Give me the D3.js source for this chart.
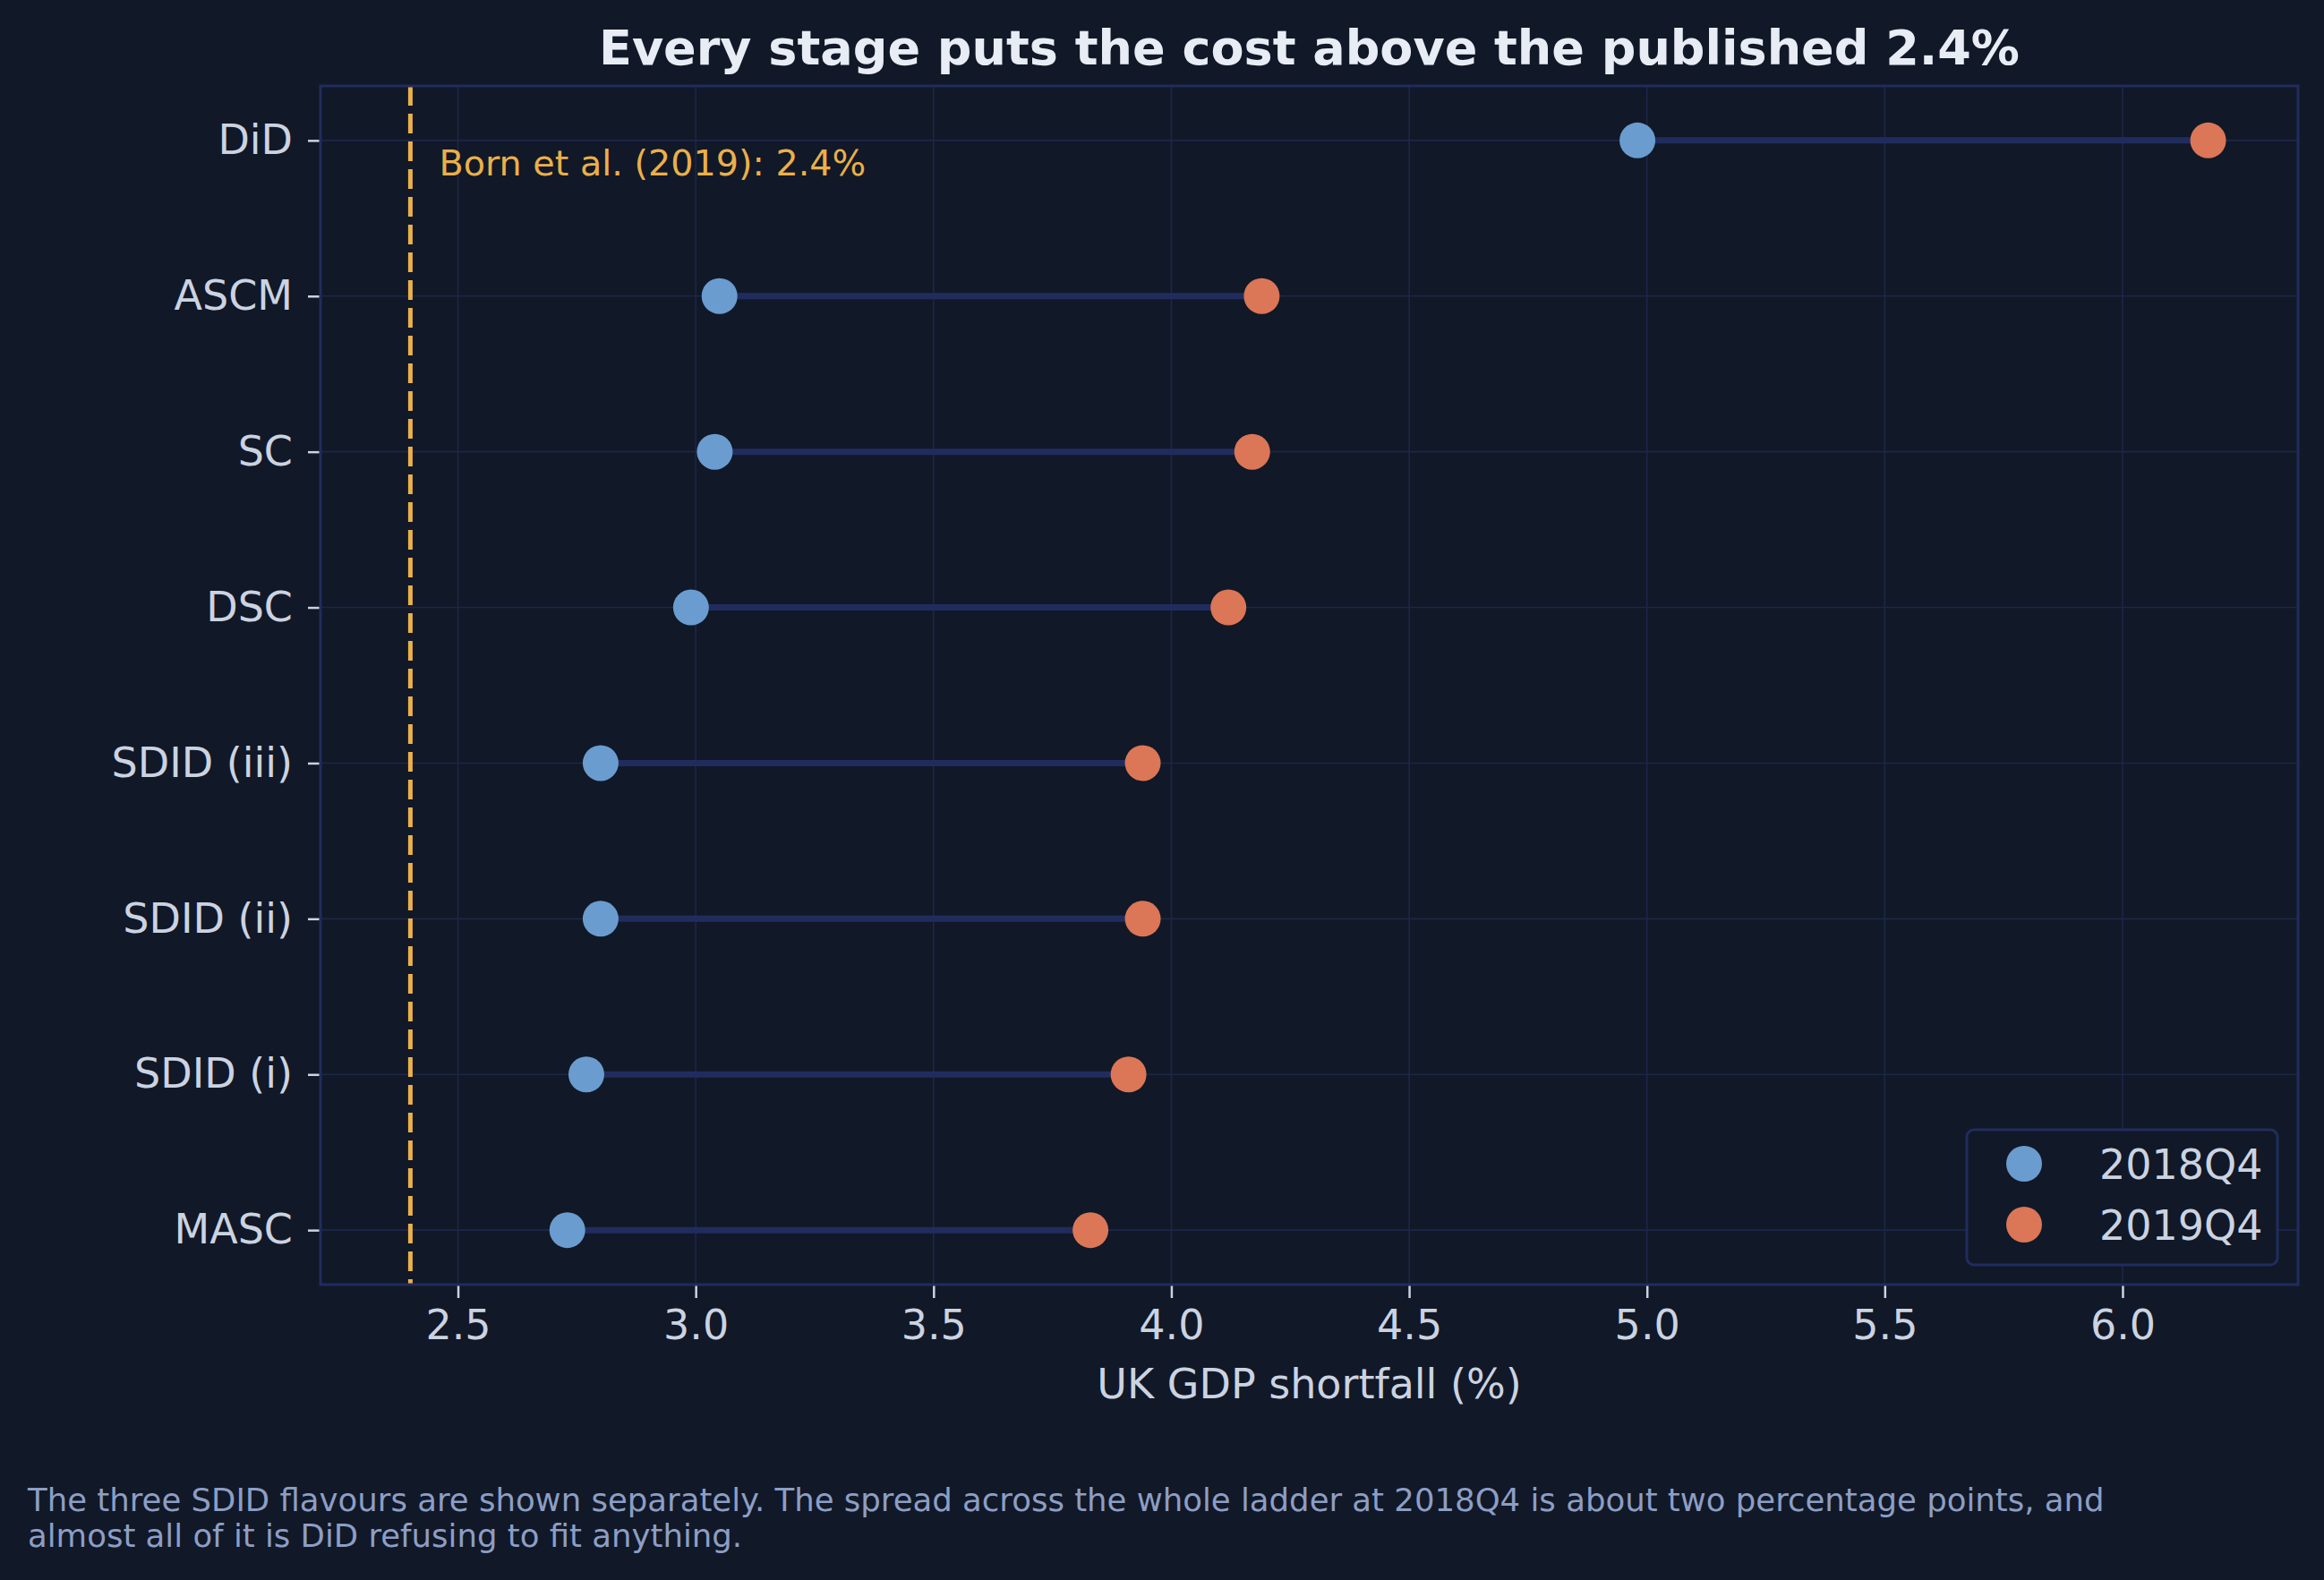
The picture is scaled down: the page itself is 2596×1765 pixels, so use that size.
<!DOCTYPE html>
<html>
<head>
<meta charset="utf-8">
<script src="https://cdn.jsdelivr.net/npm/d3@7"></script>
<style>
  body { margin: 0; background: #111827; }
  text { font-family: "DejaVu Sans", sans-serif; }
</style>
</head>
<body>
<div id="plot-area"></div>
<script>
// estimators, top to bottom
const stages = ["DiD", "ASCM", "SC", "DSC", "SDID (iii)", "SDID (ii)", "SDID (i)", "MASC"];
const q2018 = [4.98, 3.05, 3.04, 2.99, 2.80, 2.80, 2.77, 2.73];
const q2019 = [6.18, 4.19, 4.17, 4.12, 3.94, 3.94, 3.91, 3.83];
const seriesNames = ["2018Q4", "2019Q4"];
const published = 2.4;
const xTicks = [2.5, 3.0, 3.5, 4.0, 4.5, 5.0, 5.5, 6.0];

const titleText = "Every stage puts the cost above the published 2.4%";
const xLabel = "UK GDP shortfall (%)";
const refLabel = "Born et al. (2019): 2.4%";
const footLines = [
  "The three SDID flavours are shown separately. The spread across the whole ladder at 2018Q4 is about two percentage points, and",
  "almost all of it is DiD refusing to fit anything."
];

const colors = { bg: "#111827", blue: "#6a9ccf", orange: "#db7656", spine: "#212c5e",
  grid: "#1c2749", text: "#cbd3e1", title: "#e8ecf4", foot: "#8d9ec4", ref: "#eab04a" };

const w = 2596;
const h = 1765;
const margin = { top: 96, right: 29, bottom: 330, left: 358 };
const width = w - margin.left - margin.right;
const height = h - margin.top - margin.bottom;

const svg = d3.select("#plot-area").append("svg")
  .attr("width", w).attr("height", h)
  .style("background", colors.bg);

const g = svg.append("g").attr("transform", `translate(${margin.left}, ${margin.top})`);

// x range padded by 5% like matplotlib autoscale
const lo = d3.min([published, ...q2018, ...q2019]);
const hi = d3.max([published, ...q2018, ...q2019]);
const pad = 0.05 * (hi - lo);
const x = d3.scaleLinear().domain([lo - pad, hi + pad]).range([0, width]);
const y = d3.scalePoint().domain(stages).range([0, height]).padding(0.35);

// grid
g.append("g").selectAll("line").data(xTicks).enter().append("line")
  .attr("x1", d => x(d)).attr("x2", d => x(d))
  .attr("y1", 0).attr("y2", height)
  .attr("stroke", colors.grid).attr("stroke-width", 1.6);
g.append("g").selectAll("line").data(stages).enter().append("line")
  .attr("x1", 0).attr("x2", width)
  .attr("y1", d => y(d)).attr("y2", d => y(d))
  .attr("stroke", colors.grid).attr("stroke-width", 1.6);

// reference line
g.append("line")
  .attr("x1", x(published)).attr("x2", x(published))
  .attr("y1", 0).attr("y2", height)
  .attr("stroke", colors.ref).attr("stroke-width", 5)
  .attr("stroke-dasharray", "22 9");
g.append("text")
  .attr("x", x(published) + 32).attr("y", y(stages[0]) + 39)
  .attr("fill", colors.ref).attr("font-size", 39.7)
  .text(refLabel);

// dumbbells
const rows = stages.map((s, i) => ({ stage: s, a: q2018[i], b: q2019[i] }));
g.append("g").selectAll("line").data(rows).enter().append("line")
  .attr("x1", d => x(d.a)).attr("x2", d => x(d.b))
  .attr("y1", d => y(d.stage)).attr("y2", d => y(d.stage))
  .attr("stroke", colors.spine).attr("stroke-width", 7);
g.append("g").selectAll("circle").data(rows).enter().append("circle")
  .attr("cx", d => x(d.a)).attr("cy", d => y(d.stage)).attr("r", 20)
  .attr("fill", colors.blue);
g.append("g").selectAll("circle").data(rows).enter().append("circle")
  .attr("cx", d => x(d.b)).attr("cy", d => y(d.stage)).attr("r", 20)
  .attr("fill", colors.orange);

// axes
const xAxis = g.append("g").attr("transform", `translate(0, ${height})`)
  .call(d3.axisBottom(x).tickValues(xTicks).tickFormat(d3.format(".1f")).tickSize(15).tickPadding(13));
const yAxis = g.append("g")
  .call(d3.axisLeft(y).tickSize(14).tickPadding(17));
[xAxis, yAxis].forEach(a => {
  a.select(".domain").remove();
  a.selectAll(".tick line").attr("stroke", colors.text).attr("stroke-width", 2.5);
  a.selectAll(".tick text").attr("fill", colors.text).attr("font-size", 46)
    .style("font-family", "'DejaVu Sans', sans-serif");
});

// spines
g.append("rect").attr("width", width).attr("height", height)
  .attr("fill", "none").attr("stroke", colors.spine).attr("stroke-width", 3);

// legend
const lg = g.append("g").attr("transform", `translate(${width - 370}, ${height - 173})`);
lg.append("rect").attr("width", 347).attr("height", 151).attr("rx", 8)
  .attr("fill", colors.bg).attr("stroke", colors.spine).attr("stroke-width", 3);
const items = lg.selectAll("g").data(seriesNames).enter().append("g")
  .attr("transform", (d, i) => `translate(0, ${38 + i * 68})`);
items.append("circle").attr("cx", 64).attr("r", 20)
  .attr("fill", (d, i) => i === 0 ? colors.blue : colors.orange);
items.append("text").attr("x", 148).attr("dy", "0.36em")
  .attr("fill", colors.text).attr("font-size", 46).text(d => d);

// titles and notes
svg.append("text")
  .attr("x", margin.left + width / 2).attr("y", 72)
  .attr("text-anchor", "middle").attr("fill", colors.title)
  .attr("font-size", 54).attr("font-weight", "bold")
  .text(titleText);
svg.append("text")
  .attr("x", margin.left + width / 2).attr("y", 1562)
  .attr("text-anchor", "middle").attr("fill", colors.text)
  .attr("font-size", 46).text(xLabel);
svg.append("text")
  .attr("x", 31).attr("y", 1688)
  .attr("fill", colors.foot).attr("font-size", 35.5)
  .selectAll("tspan").data(footLines).enter().append("tspan")
  .attr("x", 31).attr("dy", (d, i) => i === 0 ? 0 : 40)
  .text(d => d);
</script>
</body>
</html>
